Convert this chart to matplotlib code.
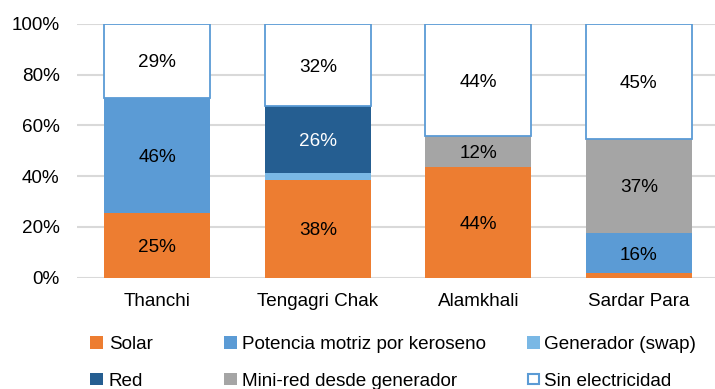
import matplotlib
matplotlib.use("Agg")
import matplotlib.pyplot as plt
from matplotlib.patches import Rectangle
import numpy as np

plt.rcParams['font.family'] = ['Liberation Sans', 'DejaVu Sans']
FS = 13.6

categories = ["Thanchi", "Tengagri Chak", "Alamkhali", "Sardar Para"]
series_names = ["Solar", "Potencia motriz por keroseno", "Generador (swap)",
                "Red", "Mini-red desde generador", "Sin electricidad"]
solar = [25.3, 38.4, 43.6, 1.6]
keroseno = [45.6, 0.0, 0.0, 16.0]
generador_swap = [0.0, 2.8, 0.0, 0.0]
red = [0.0, 26.4, 0.0, 0.0]
mini_red = [0.0, 0.0, 12.1, 37.0]
sin_electricidad = [29.1, 32.4, 44.3, 45.4]
y_ticks = [0, 20, 40, 60, 80, 100]

series = [solar, keroseno, generador_swap, red, mini_red, sin_electricidad]
colors = ["#ed7d31", "#5b9bd5", "#7ab8e5", "#255e91", "#a5a5a5", "#ffffff"]
label_colors = ["#000000", "#000000", "#000000", "#ffffff", "#000000", "#000000"]
edge_blue = "#5b9bd5"

fig = plt.figure(figsize=(7.15, 3.89), dpi=100)
W, H = 715, 389
ax = fig.add_axes([77 / W, (H - 277.5) / H, 642 / W, 253.5 / H])

x = np.arange(len(categories))
bottom = np.zeros(len(categories))
for i, (vals, col) in enumerate(zip(series, colors)):
    vals = np.array(vals)
    if col == "#ffffff":
        ax.bar(x, vals, 0.66, bottom=bottom, color=col, edgecolor=edge_blue,
               linewidth=1.3, zorder=3)
    else:
        ax.bar(x, vals, 0.66, bottom=bottom, color=col, linewidth=0, zorder=3)
    for xi, v, b in zip(x, vals, bottom):
        if v >= 5:
            ax.text(xi, b + v / 2, f"{v:.0f}%", ha="center", va="center_baseline",
                    fontsize=FS, color=label_colors[i], zorder=4)
    bottom += vals

ax.set_xlim(-0.5, 3.5)
ax.set_ylim(0, 100)
ax.set_yticks(y_ticks)
ax.set_yticklabels([f"{t}%" for t in y_ticks], fontsize=FS)
ax.set_xticks(x)
ax.set_xticklabels(categories, fontsize=FS)
ax.tick_params(axis="y", length=0, pad=12.5)
ax.tick_params(axis="x", length=0, pad=11.5)
for s in ax.spines.values():
    s.set_visible(False)
ax.yaxis.grid(True, color="#d9d9d9", linewidth=1.5, zorder=0)
ax.set_axisbelow(True)

# legend laid out in two rows of three entries
col_marker_x = [90, 224, 527]
col_text_x = [109, 242, 544]
row_y = [342.5, 379.0]
sq = 12.5
for k, name in enumerate(series_names):
    r, c = divmod(k, 3)
    cx, cy = col_marker_x[c], row_y[r]
    if colors[k] == "#ffffff":
        rect = Rectangle(((cx + 1) / W, (H - cy - sq / 2 + 1) / H), (sq - 2) / W, (sq - 2) / H,
                         transform=fig.transFigure, facecolor="white",
                         edgecolor=edge_blue, linewidth=1.5)
    else:
        rect = Rectangle((cx / W, (H - cy - sq / 2) / H), sq / W, sq / H,
                         transform=fig.transFigure, facecolor=colors[k], linewidth=0)
    fig.add_artist(rect)
    fig.text(col_text_x[c] / W, (H - cy) / H, name, fontsize=FS,
             ha="left", va="center_baseline")

fig.savefig("out.png", dpi=100)
